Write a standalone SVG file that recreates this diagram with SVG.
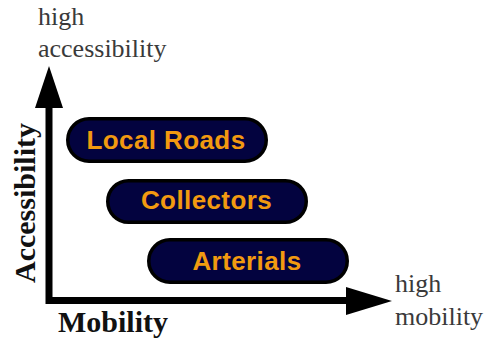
<svg xmlns="http://www.w3.org/2000/svg" width="485" height="342" viewBox="0 0 485 342">
<style>
.pill{fill:#03033f;stroke:#000;stroke-width:3.5}
.pt{font-family:"Liberation Sans",Arial,sans-serif;font-weight:bold;font-size:26px;fill:#f29a10;text-anchor:middle;letter-spacing:0.4px}
.lbl{font-family:"Liberation Serif","Times New Roman",serif;font-size:26px;fill:#3a3a3a}
.ax{font-family:"Liberation Serif","Times New Roman",serif;font-size:30px;font-weight:bold;fill:#111}
.axis{fill:none;stroke:#000;stroke-width:7;stroke-linejoin:miter}
.head{fill:#000}
</style>
<rect width="485" height="342" fill="#fff"/>
<g id="connectors">
<path class="axis" d="M49,104 V300.5 H349"/>
<polygon class="head" points="49,66 35,108 63,108"/>
<polygon class="head" points="392,301 346,287 346,315"/>
</g>
<g id="local-roads">
<rect class="pill" x="67.75" y="118.75" width="198.5" height="42.5" rx="21.25"/>
<text class="pt" x="166" y="148.5">Local Roads</text>
</g>
<g id="collectors">
<rect class="pill" x="107.75" y="180.75" width="198.5" height="41.5" rx="20.75"/>
<text class="pt" x="206.5" y="209">Collectors</text>
</g>
<g id="arterials">
<rect class="pill" x="148.75" y="239.75" width="198.5" height="42.5" rx="21.25"/>
<text class="pt" x="247" y="269.5">Arterials</text>
</g>
<g id="labels">
<text class="lbl" x="38" y="25">high</text>
<text class="lbl" x="38" y="57">accessibility</text>
<text class="lbl" x="395" y="292">high</text>
<text class="lbl" x="395" y="325">mobility</text>
<text class="ax" x="58" y="332">Mobility</text>
<text class="ax" transform="translate(35,283) rotate(-90)">Accessibility</text>
</g>
</svg>
